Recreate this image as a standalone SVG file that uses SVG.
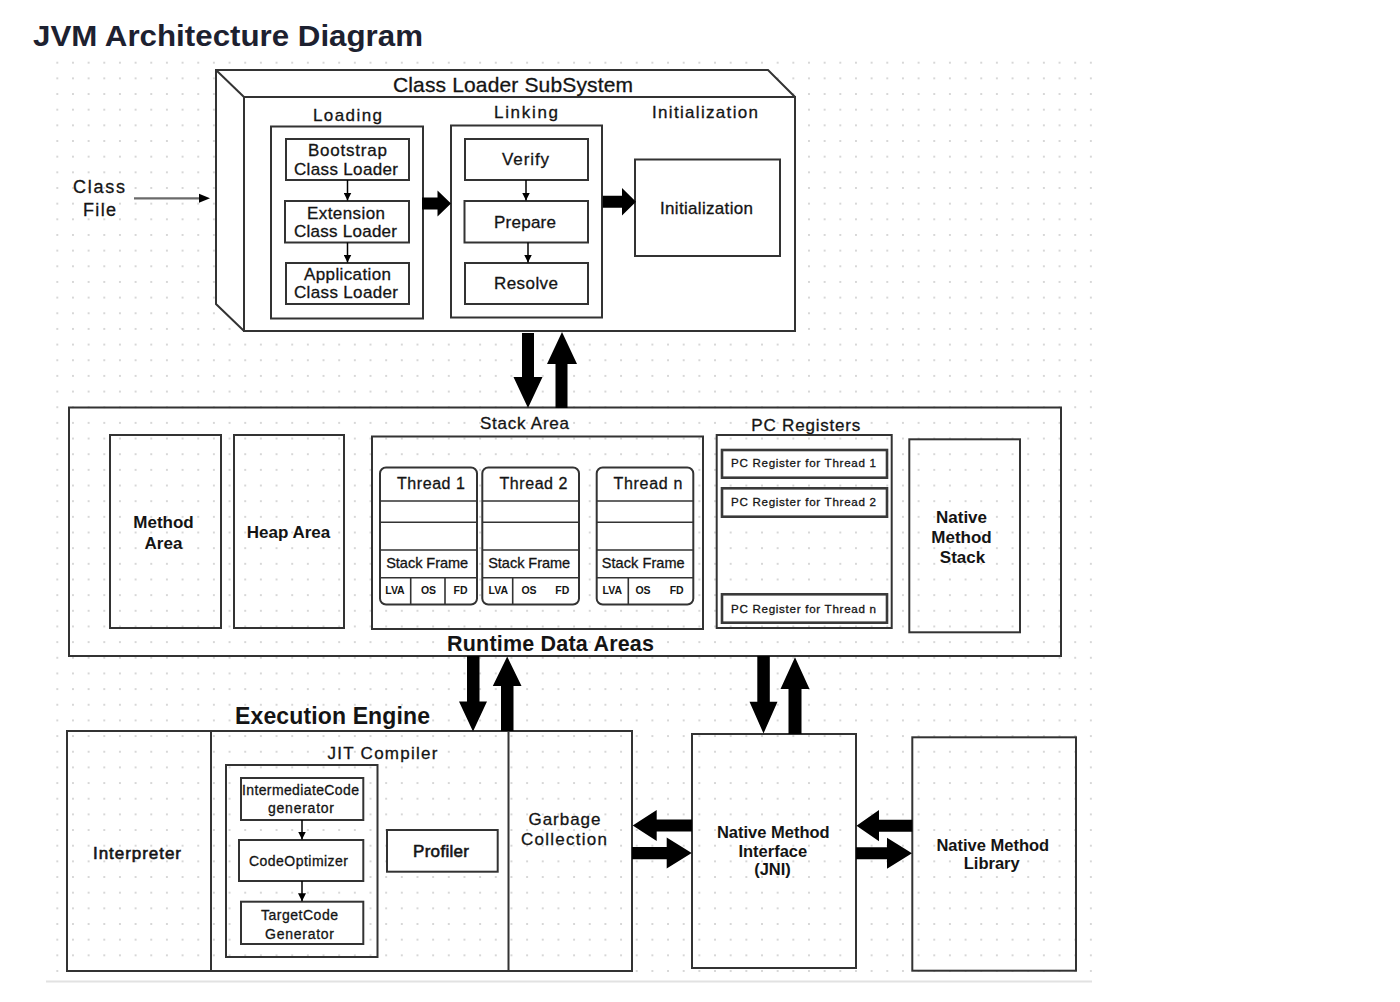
<svg xmlns="http://www.w3.org/2000/svg" width="1400" height="1002" viewBox="0 0 1400 1002">
<defs>
<pattern id="grid" x="49.47" y="54.87" width="15.66" height="15.66" patternUnits="userSpaceOnUse"><circle cx="7.83" cy="7.83" r="0.9" fill="#c6c6c6"/></pattern>
<marker id="ah" viewBox="0 0 10 10" refX="10" refY="5" markerWidth="8" markerHeight="8" markerUnits="userSpaceOnUse" orient="auto"><path d="M0,0 L10,5 L0,10 z" fill="#000"/></marker>
</defs>
<style>
text{font-family:"Liberation Sans",Arial,sans-serif;fill:#141414;stroke:#141414;stroke-width:0.3px;}
.b{font-weight:bold;stroke-width:0;}
.c{text-anchor:middle;}
.l17{font-size:17px;}
.l16{font-size:16px;}
.box{fill:none;stroke:#333;stroke-width:2;}
.wbox{fill:#fff;stroke:#333;stroke-width:2;}
.thin{fill:none;stroke:#333;stroke-width:1.6;}
.pcb{fill:#fff;stroke:#3a3a3a;stroke-width:2.6;}
.big{fill:#000;}
.sm{stroke:#000;stroke-width:1.5;fill:none;marker-end:url(#ah);}
</style>
<rect width="1400" height="1002" fill="#fff"/>
<rect x="48" y="56" width="1046" height="922" fill="url(#grid)"/>
<line x1="46" y1="981.5" x2="1092" y2="981.5" stroke="#e2e2e2" stroke-width="2"/>
<text class="b" x="33" y="46" font-size="30" textLength="390" lengthAdjust="spacingAndGlyphs" style="fill:#1d2130">JVM Architecture Diagram</text>

<g id="class-file">
<text class="c" x="99" y="193" font-size="18" textLength="52">Class</text>
<text class="c" x="99.5" y="216" font-size="18" textLength="33">File</text>
</g>

<g id="class-loader-subsystem">
<path class="wbox" d="M216,70 L768,70 L795,97 L795,331 L244,331 L216,304 Z"/>
<rect class="box" x="244" y="97" width="551" height="234"/>
<line x1="216" y1="70" x2="244" y2="97" stroke="#333" stroke-width="2"/>
<text class="c" x="513" y="92" font-size="21" textLength="240">Class Loader SubSystem</text>
<text class="c l17" x="347.5" y="121" textLength="69">Loading</text>
<text class="c l17" x="526" y="118" textLength="64">Linking</text>
<text class="c l17" x="705" y="118" textLength="106">Initialization</text>
</g>

<g id="loading">
<rect class="wbox" x="271" y="126.5" width="152" height="192"/>
</g>
<g id="bootstrap-class-loader">
<rect class="wbox" x="286" y="139" width="123" height="41"/>
<text class="c l17" x="347.5" y="156" textLength="79">Bootstrap</text>
<text class="c l17" x="346" y="175" textLength="104">Class Loader</text>
</g>
<g id="extension-class-loader">
<rect class="wbox" x="285" y="201" width="124" height="41.5"/>
<text class="c l17" x="346" y="219" textLength="78">Extension</text>
<text class="c l17" x="345.5" y="237" textLength="103">Class Loader</text>
</g>
<g id="application-class-loader">
<rect class="wbox" x="286" y="263" width="123" height="41"/>
<text class="c l17" x="347.5" y="280" textLength="87">Application</text>
<text class="c l17" x="346" y="298" textLength="104">Class Loader</text>
</g>

<g id="linking">
<rect class="wbox" x="451" y="125.5" width="151" height="192"/>
</g>
<g id="verify">
<rect class="wbox" x="465" y="139" width="123" height="41"/>
<text class="c l17" x="525.5" y="165" textLength="47">Verify</text>
</g>
<g id="prepare">
<rect class="wbox" x="464.5" y="201" width="123.5" height="41.5"/>
<text class="c l17" x="525" y="228" textLength="62">Prepare</text>
</g>
<g id="resolve">
<rect class="wbox" x="465" y="263" width="123" height="41"/>
<text class="c l17" x="526" y="289" textLength="64">Resolve</text>
</g>

<g id="initialization">
<rect class="wbox" x="635" y="159.5" width="145" height="96.5"/>
<text class="c l17" x="706.5" y="214" textLength="93">Initialization</text>
</g>

<g id="runtime-data-areas">
<rect class="box" x="69" y="407.5" width="992" height="248.5"/>
<text class="c b" x="550.5" y="651" font-size="21.5" textLength="207">Runtime Data Areas</text>
</g>
<g id="method-area">
<rect class="box" x="110" y="435" width="111" height="193"/>
<text class="c b" x="163.5" y="528" font-size="17">Method</text>
<text class="c b" x="163.5" y="548.5" font-size="17">Area</text>
</g>
<g id="heap-area">
<rect class="box" x="234" y="435" width="110" height="193"/>
<text class="c b" x="288.5" y="537.5" font-size="17">Heap Area</text>
</g>

<g id="stack-area">
<rect class="box" x="372" y="436.5" width="331" height="192.5"/>
<text class="c l17" x="524.5" y="428.5" textLength="89">Stack Area</text>
</g>
<g id="thread-1">
<rect class="wbox" x="380" y="467.5" width="97" height="137" rx="6"/>
<path class="thin" d="M380,501 H477 M380,522.3 H477 M380,550 H477 M380,577.7 H477 M410.7,577.7 V604.5 M445,577.7 V604.5"/>
<text class="c l16" x="431" y="489" textLength="68">Thread 1</text>
<text class="c" x="427.2" y="567.5" font-size="14.5" textLength="82">Stack Frame</text>
<text class="c b" x="395" y="594" font-size="10.5">LVA</text>
<text class="c b" x="428.5" y="594" font-size="10.5">OS</text>
<text class="c b" x="460.5" y="594" font-size="10.5">FD</text>
</g>
<g id="thread-2">
<rect class="wbox" x="482.3" y="467.5" width="96.7" height="137" rx="6"/>
<path class="thin" d="M482.3,501 H579 M482.3,522.3 H579 M482.3,550 H579 M482.3,577.7 H579 M512.7,577.7 V604.5"/>
<text class="c l16" x="533.5" y="489" textLength="68">Thread 2</text>
<text class="c" x="529.2" y="567.5" font-size="14.5" textLength="82">Stack Frame</text>
<text class="c b" x="498.3" y="594" font-size="10.5">LVA</text>
<text class="c b" x="529" y="594" font-size="10.5">OS</text>
<text class="c b" x="562.3" y="594" font-size="10.5">FD</text>
</g>
<g id="thread-n">
<rect class="wbox" x="596.7" y="467.5" width="96.6" height="137" rx="6"/>
<path class="thin" d="M596.7,501 H693.3 M596.7,522.3 H693.3 M596.7,550 H693.3 M596.7,577.7 H693.3 M628.3,577.7 V604.5"/>
<text class="c l16" x="648" y="489" textLength="69">Thread n</text>
<text class="c" x="643.2" y="567.5" font-size="14.5" textLength="83">Stack Frame</text>
<text class="c b" x="612.3" y="594" font-size="10.5">LVA</text>
<text class="c b" x="643" y="594" font-size="10.5">OS</text>
<text class="c b" x="676.7" y="594" font-size="10.5">FD</text>
</g>

<g id="pc-registers">
<rect class="box" x="716.7" y="435" width="175" height="193"/>
<text class="c l17" x="805.8" y="430.5" textLength="109">PC Registers</text>
</g>
<g id="pc-register-1">
<rect class="pcb" x="722" y="450" width="165" height="27.7"/>
<text x="731" y="467" font-size="11.6" textLength="145">PC Register for Thread 1</text>
</g>
<g id="pc-register-2">
<rect class="pcb" x="722" y="488.3" width="165" height="28.4"/>
<text x="731" y="506" font-size="11.6" textLength="145">PC Register for Thread 2</text>
</g>
<g id="pc-register-n">
<rect class="pcb" x="722" y="594.3" width="165" height="28.4"/>
<text x="731" y="613" font-size="11.6" textLength="145">PC Register for Thread n</text>
</g>

<g id="native-method-stack">
<rect class="box" x="909.3" y="439.3" width="110.7" height="193"/>
<text class="c b" x="961.5" y="522.5" font-size="17">Native</text>
<text class="c b" x="961.5" y="542.5" font-size="17">Method</text>
<text class="c b" x="962.5" y="562.5" font-size="17">Stack</text>
</g>

<g id="execution-engine">
<rect class="box" x="67" y="731" width="565" height="240"/>
<line x1="211" y1="731" x2="211" y2="971" stroke="#333" stroke-width="2"/>
<line x1="508.5" y1="731" x2="508.5" y2="971" stroke="#333" stroke-width="2"/>
<text class="c b" x="332.5" y="724" font-size="23" textLength="195">Execution Engine</text>
</g>
<g id="interpreter">
<text class="c" x="137" y="858.5" font-size="17" textLength="88" style="stroke-width:0.6px">Interpreter</text>
</g>
<g id="jit-compiler">
<rect class="box" x="226" y="765" width="151.5" height="192"/>
<text class="c l17" x="382.5" y="759" textLength="110">JIT Compiler</text>
</g>
<g id="intermediate-code-generator">
<rect class="wbox" x="241" y="778" width="122.3" height="42"/>
<text class="c" x="300.5" y="794.5" font-size="14" textLength="117">IntermediateCode</text>
<text class="c" x="301" y="813" font-size="14" textLength="66">generator</text>
</g>
<g id="code-optimizer">
<rect class="wbox" x="239" y="840" width="124.3" height="41"/>
<text class="c" x="298.5" y="866" font-size="14" textLength="99">CodeOptimizer</text>
</g>
<g id="target-code-generator">
<rect class="wbox" x="241" y="901.7" width="122.3" height="42.3"/>
<text class="c" x="299.5" y="920" font-size="14" textLength="77">TargetCode</text>
<text class="c" x="299.5" y="938.5" font-size="14" textLength="69">Generator</text>
</g>
<g id="profiler">
<rect class="wbox" x="387" y="830" width="110.7" height="41.7"/>
<text class="c" x="441" y="857" font-size="17" textLength="56" style="stroke-width:0.6px">Profiler</text>
</g>
<g id="garbage-collection">
<text class="c l17" x="564.5" y="824.5" textLength="72">Garbage</text>
<text class="c l17" x="564" y="844.5" textLength="86">Collection</text>
</g>

<g id="native-method-interface">
<rect class="box" x="692" y="734" width="164" height="234"/>
<text class="c b" x="773.3" y="838.3" font-size="16.5">Native Method</text>
<text class="c b" x="772.8" y="857" font-size="16.5">Interface</text>
<text class="c b" x="772.5" y="874.5" font-size="16.5">(JNI)</text>
</g>
<g id="native-method-library">
<rect class="box" x="912.3" y="737.3" width="163.7" height="233.4"/>
<text class="c b" x="992.8" y="850.5" font-size="16.5">Native Method</text>
<text class="c b" x="991.7" y="869" font-size="16.5">Library</text>
</g>

<g id="connectors">
<line x1="134" y1="198.3" x2="202" y2="198.3" stroke="#6a6a6a" stroke-width="2.2"/>
<path d="M199,193.8 L210,198.3 L199,202.8 Z" fill="#000"/>
<line class="sm" x1="347.5" y1="180" x2="347.5" y2="200.5"/>
<line class="sm" x1="347.5" y1="242.5" x2="347.5" y2="262.5"/>
<line class="sm" x1="526" y1="180" x2="526" y2="200.5"/>
<line class="sm" x1="528" y1="242.5" x2="528" y2="262.5"/>
<line class="sm" x1="302" y1="820" x2="302" y2="839.5"/>
<line class="sm" x1="302" y1="881" x2="302" y2="901.2"/>
<path class="big" d="M422,197.5 H437.5 V190.5 L451,203.5 L437.5,216.5 V209.5 H422 Z"/>
<path class="big" d="M602.7,195.7 H622 V188 L636,201.7 L622,215.5 V207.7 H602.7 Z"/>
<path class="big" d="M522,333 H534 V377 H542.5 L528,408 L513.5,377 H522 Z"/>
<path class="big" d="M555.5,408 H567.5 V364 H577 L562,332 L547,364 H555.5 Z"/>
<path class="big" d="M467,656 H479.5 V701.5 H487 L473,731.5 L459,701.5 H467 Z"/>
<path class="big" d="M501,731 H513.5 V686 H521.5 L507.2,656.5 L492.8,686 H501 Z"/>
<path class="big" d="M757.3,656 H769.8 V701.7 H777.5 L763.5,733.5 L749.5,701.7 H757.3 Z"/>
<path class="big" d="M788.5,734 H801.5 V689 H809.5 L795,657.3 L780.5,689 H788.5 Z"/>
<path class="big" d="M692,819.5 H656.7 V810 L632.7,825.5 L656.7,841 V831.5 H692 Z"/>
<path class="big" d="M632,847 H666.7 V837.5 L691.7,853 L666.7,868.5 V859.2 H632 Z"/>
<path class="big" d="M912.3,819.7 H879 V810 L856.5,825.7 L879,841.2 V831.7 H912.3 Z"/>
<path class="big" d="M856,847.3 H887 V837.7 L912,853.3 L887,868.7 V859.3 H856 Z"/>
</g>
</svg>
